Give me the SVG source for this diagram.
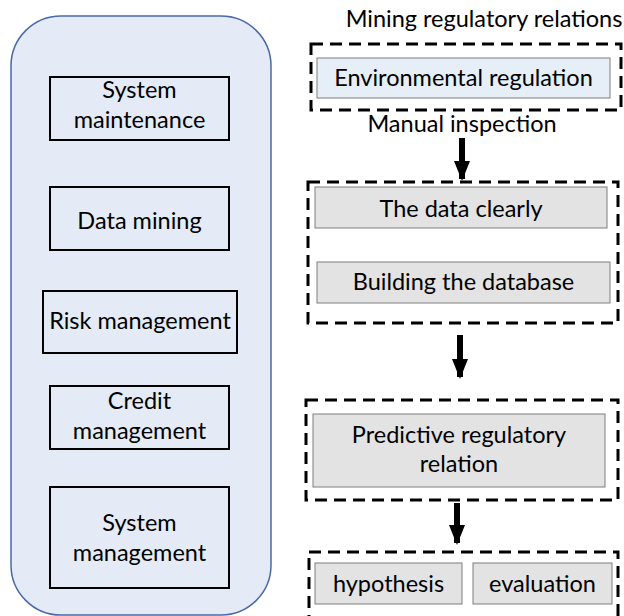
<svg xmlns="http://www.w3.org/2000/svg" width="624" height="616" viewBox="0 0 624 616">
  <style>
    text { font-family: Lato, "Liberation Sans", sans-serif; fill: #000; text-anchor: middle; }
    .lbl { font-size: 23.5px; }
    .panel { fill: #e4ebf6; stroke: #4a69a6; stroke-width: 1.5; }
    .func { fill: none; stroke: #000; stroke-width: 2; }
    .group { fill: none; stroke: #000; stroke-width: 3; stroke-dasharray: 12 7; }
    .blue { fill: #e6eef8; stroke: #7f7f7f; stroke-width: 1; }
    .grey { fill: #e3e3e3; stroke: #7f7f7f; stroke-width: 1; }
    .shaft { stroke: #000; stroke-width: 6; }
  </style>
  <defs>
    <marker id="head" viewBox="0 0 20 16" refX="18" refY="8" markerWidth="20" markerHeight="16" markerUnits="userSpaceOnUse" orient="auto">
      <path d="M0,0 L20,8 L0,16 Z" fill="#000"/>
    </marker>
  </defs>

  <!-- left panel of system functions -->
  <g id="panel">
    <rect class="panel" x="11" y="16" width="260" height="599" rx="50" ry="50"/>
  </g>
  <g id="system-maintenance">
    <rect class="func" x="50" y="77" width="179" height="63"/>
    <text class="lbl" x="139.5" y="98">System</text>
    <text class="lbl" x="139.5" y="128">maintenance</text>
  </g>
  <g id="data-mining">
    <rect class="func" x="50" y="187" width="179" height="63"/>
    <text class="lbl" x="139.5" y="229">Data mining</text>
  </g>
  <g id="risk-management">
    <rect class="func" x="43" y="291" width="194" height="62"/>
    <text class="lbl" x="140" y="329">Risk management</text>
  </g>
  <g id="credit-management">
    <rect class="func" x="50" y="386" width="179" height="63"/>
    <text class="lbl" x="139.5" y="409">Credit</text>
    <text class="lbl" x="139.5" y="439">management</text>
  </g>
  <g id="system-management">
    <rect class="func" x="50" y="487" width="179" height="101"/>
    <text class="lbl" x="139.5" y="531">System</text>
    <text class="lbl" x="139.5" y="561">management</text>
  </g>

  <!-- right-hand workflow -->
  <g id="mining-title">
    <text class="lbl" x="484" y="27">Mining regulatory relations</text>
  </g>
  <g id="stage-regulation">
    <rect class="group" x="311" y="44" width="310" height="66"/>
    <rect class="blue" x="317" y="58" width="293" height="40"/>
    <text class="lbl" x="463.5" y="86">Environmental regulation</text>
  </g>
  <g id="manual-inspection">
    <text class="lbl" x="462" y="132">Manual inspection</text>
  </g>
  <g id="stage-database">
    <rect class="group" x="308" y="182" width="310" height="141"/>
    <rect class="grey" x="315" y="187" width="292" height="41"/>
    <text class="lbl" x="461" y="217">The data clearly</text>
    <rect class="grey" x="317" y="262" width="293" height="41"/>
    <text class="lbl" x="463.5" y="290">Building the database</text>
  </g>
  <g id="stage-prediction">
    <rect class="group" x="306" y="400" width="312" height="100"/>
    <rect class="grey" x="313" y="414" width="292" height="73"/>
    <text class="lbl" x="459" y="443">Predictive regulatory</text>
    <text class="lbl" x="459" y="472">relation</text>
  </g>
  <g id="stage-evaluation">
    <rect class="group" x="309" y="552" width="309" height="80"/>
    <rect class="grey" x="315" y="563" width="147" height="41"/>
    <text class="lbl" x="388.5" y="592">hypothesis</text>
    <rect class="grey" x="473" y="563" width="139" height="41"/>
    <text class="lbl" x="542.5" y="592">evaluation</text>
  </g>

  <!-- flow arrows -->
  <g id="connectors">
    <line class="shaft" x1="462" y1="138" x2="462" y2="179" marker-end="url(#head)"/>
    <line class="shaft" x1="460" y1="335" x2="460" y2="377" marker-end="url(#head)"/>
    <line class="shaft" x1="457" y1="503" x2="457" y2="543" marker-end="url(#head)"/>
  </g>
</svg>
